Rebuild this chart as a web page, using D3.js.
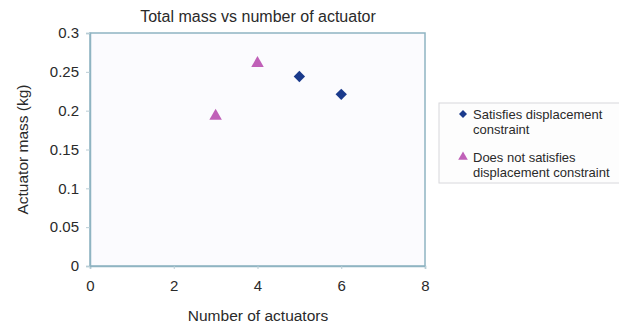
<!DOCTYPE html>
<html>
<head>
<meta charset="utf-8">
<script src="https://cdn.jsdelivr.net/npm/d3@7.8.5/dist/d3.min.js"></script>
<style>
  body { margin: 0; background: #fff; }
  svg text { font-family: "Liberation Sans", Arial, sans-serif; fill: #2a2a2a; }
</style>
</head>
<body>
<svg id="chart" width="619" height="328"></svg>
<script>
// data
const satisfiesX = [5, 6];
const satisfiesY = [0.244, 0.221];
const notSatisfiesX = [3, 4];
const notSatisfiesY = [0.193, 0.261];
const xTicks = [0, 2, 4, 6, 8];
const yTicks = [0, 0.05, 0.1, 0.15, 0.2, 0.25, 0.3];
const legendLabels = [
  ["Satisfies displacement", "constraint"],
  ["Does not satisfies", "displacement constraint"]
];

const svg = d3.select("#chart");
const margin = { top: 33, right: 194, bottom: 62, left: 90 };
const width = 619, height = 328;

const x = d3.scaleLinear().domain([0, 8]).range([margin.left, width - margin.right]);
const y = d3.scaleLinear().domain([0, 0.3]).range([height - margin.bottom, margin.top]);

// plot area
svg.append("rect")
  .attr("x", x(0)).attr("y", y(0.3))
  .attr("width", x(8) - x(0)).attr("height", y(0) - y(0.3))
  .attr("fill", "#fbfbfe")
  .attr("stroke", "#8fb4c2")
  .attr("stroke-width", 1.5);

// axes
svg.append("g")
  .attr("transform", `translate(0, ${y(0)})`)
  .call(d3.axisBottom(x).tickValues(xTicks).tickSize(3).tickPadding(11).tickFormat(d3.format("d")));
svg.append("g")
  .attr("transform", `translate(${x(0)}, 0)`)
  .call(d3.axisLeft(y).tickValues(yTicks).tickSize(4).tickPadding(7).tickFormat(d => d === 0 ? "0" : String(+d.toFixed(2))));

svg.selectAll(".domain").attr("stroke", "#8fb4c2").attr("stroke-width", 1.5);
svg.selectAll(".tick line").attr("stroke", "#b8cdd5");
svg.selectAll(".tick text").style("font-size", "15px").style("fill", "#2a2a2a");

// titles
svg.append("text")
  .attr("x", 258).attr("y", 22)
  .attr("text-anchor", "middle")
  .style("font-size", "16px")
  .text("Total mass vs number of actuator");

svg.append("text")
  .attr("x", 258).attr("y", 321)
  .attr("text-anchor", "middle")
  .style("font-size", "15.5px")
  .text("Number of actuators");

svg.append("text")
  .attr("transform", `translate(28, ${(y(0) + y(0.3)) / 2}) rotate(-90)`)
  .attr("text-anchor", "middle")
  .style("font-size", "15.5px")
  .text("Actuator mass (kg)");

// points
const diamond = d3.symbol().type(d3.symbolSquare).size(64);
const triangle = d3.symbol().type(d3.symbolTriangle).size(68);

svg.append("g").selectAll("path")
  .data(d3.zip(satisfiesX, satisfiesY))
  .join("path")
  .attr("transform", d => `translate(${x(d[0])}, ${y(d[1])}) rotate(45)`)
  .attr("d", diamond)
  .attr("fill", "#1a3a8c");

svg.append("g").selectAll("path")
  .data(d3.zip(notSatisfiesX, notSatisfiesY))
  .join("path")
  .attr("transform", d => `translate(${x(d[0])}, ${y(d[1])})`)
  .attr("d", triangle)
  .attr("fill", "#c060b8");

// legend
const legend = svg.append("g").attr("transform", "translate(439, 103)");
legend.append("rect")
  .attr("width", 184).attr("height", 80)
  .attr("fill", "#fdfdfd")
  .attr("stroke", "#d8d8dc");

const legendMarks = [
  { sym: d3.symbol().type(d3.symbolSquare).size(32), rot: 45, fill: "#1a3a8c" },
  { sym: d3.symbol().type(d3.symbolTriangle).size(40), rot: 0, fill: "#c060b8" }
];
legendLabels.forEach((lines, i) => {
  const g = legend.append("g").attr("transform", `translate(0, ${16 + i * 43})`);
  g.append("path")
    .attr("transform", `translate(24, -5) rotate(${legendMarks[i].rot})`)
    .attr("d", legendMarks[i].sym)
    .attr("fill", legendMarks[i].fill);
  const t = g.append("text").attr("x", 34).attr("y", 0).style("font-size", "13px");
  lines.forEach((line, j) => {
    t.append("tspan").attr("x", 34).attr("dy", j === 0 ? 0 : 15).text(line);
  });
});
</script>
</body>
</html>
